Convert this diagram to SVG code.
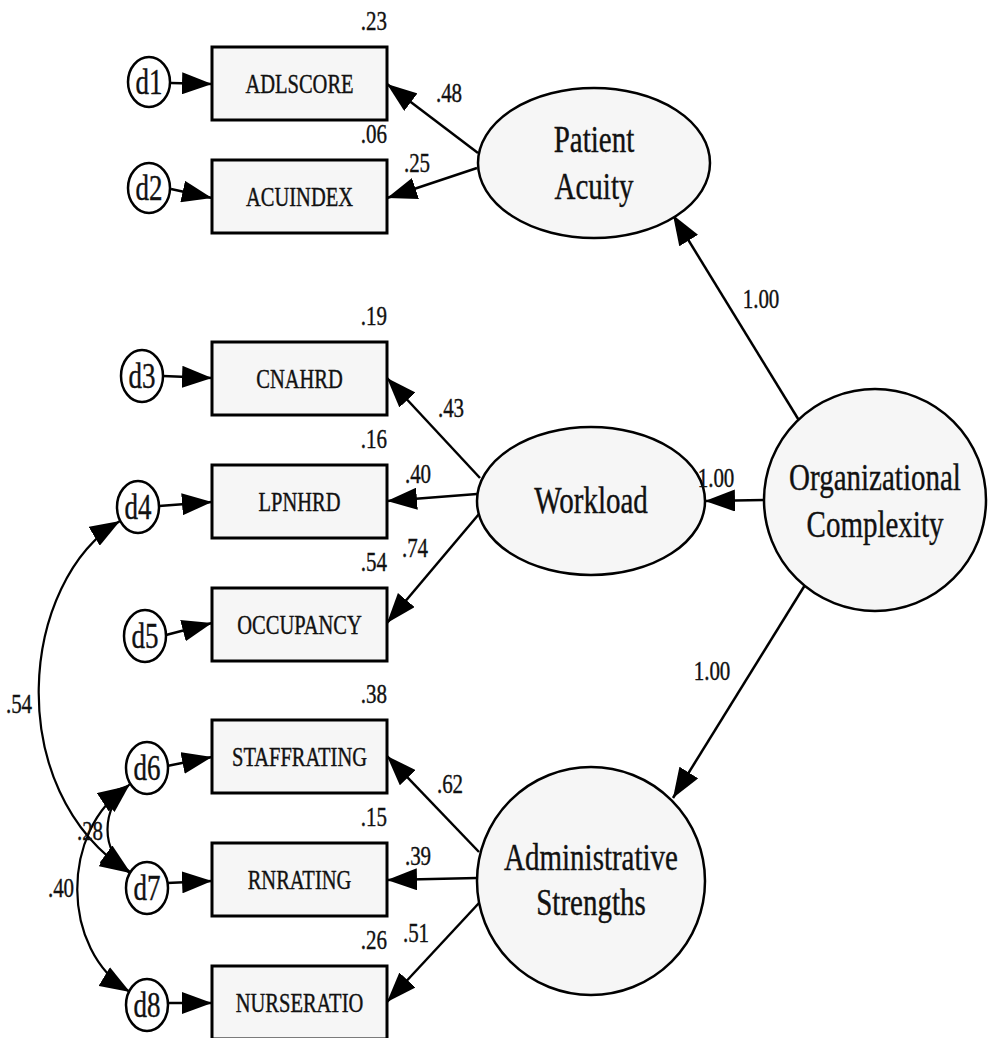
<svg xmlns="http://www.w3.org/2000/svg" width="994" height="1038" viewBox="0 0 994 1038">
<style>
.box{fill:#f6f6f6;stroke:#000;stroke-width:3}
.lat{fill:#f6f6f6;stroke:#000;stroke-width:2.5}
.err{fill:#fff;stroke:#000;stroke-width:2.5}
.ln{fill:none;stroke:#000;stroke-width:2.5;marker-end:url(#ah)}
.cv{fill:none;stroke:#000;stroke-width:2.2;marker-end:url(#ah);marker-start:url(#ah)}
text{font-family:'Liberation Serif','Times New Roman',serif;fill:#111;stroke:#111;stroke-width:0.3;text-anchor:middle}
.bl{font-size:20.5px}
.dl{font-size:27px}
.ll{font-size:29px}
.nl{font-size:21px}
.r2{font-size:21px;text-anchor:end}
</style>
<defs>
<marker id="ah" markerUnits="userSpaceOnUse" markerWidth="30" markerHeight="22" refX="30" refY="11" orient="auto-start-reverse">
<path d="M0,0 L30,11 L0,22 z" fill="#000"/>
</marker>
</defs>
<g id="connectors">
<line class="ln" x1="171" y1="83" x2="212" y2="84"/>
<line class="ln" x1="171" y1="189" x2="212" y2="198"/>
<line class="ln" x1="163" y1="376" x2="212" y2="378"/>
<line class="ln" x1="159" y1="506" x2="212" y2="502"/>
<line class="ln" x1="166" y1="635" x2="212" y2="623"/>
<line class="ln" x1="167" y1="766" x2="212" y2="757"/>
<line class="ln" x1="167" y1="883" x2="212" y2="881"/>
<line class="ln" x1="167" y1="1003" x2="212" y2="1003"/>
<line class="ln" x1="478" y1="153" x2="387" y2="84"/>
<line class="ln" x1="477" y1="168" x2="387" y2="198"/>
<line class="ln" x1="480" y1="478" x2="387" y2="378"/>
<line class="ln" x1="477" y1="494" x2="387" y2="501"/>
<line class="ln" x1="479" y1="514" x2="387" y2="623"/>
<line class="ln" x1="479" y1="852" x2="387" y2="756"/>
<line class="ln" x1="477" y1="878" x2="387" y2="880"/>
<line class="ln" x1="479" y1="903" x2="387" y2="1002"/>
<line class="ln" x1="800" y1="422" x2="673" y2="215"/>
<line class="ln" x1="764" y1="500" x2="705" y2="501"/>
<line class="ln" x1="805" y1="585" x2="673" y2="798"/>
<path class="cv" d="M120,521 C20,580 0,790 130,873"/>
<path class="cv" d="M130,784 C100,810 100,850 130,872"/>
<path class="cv" d="M128,786 C60,830 60,950 130,992"/>
</g>
<g id="ADLSCORE" font-family="Liberation Serif, serif"><rect class="box" x="212" y="47" width="175" height="73"/><text class="bl" transform="translate(299.5,92.5) scale(1,1.3)">ADLSCORE</text><text class="r2" transform="translate(387,30) scale(1,1.3)">.23</text></g>
<g id="ACUINDEX"><rect class="box" x="212" y="160" width="175" height="73"/><text class="bl" transform="translate(299.5,205.5) scale(1,1.3)">ACUINDEX</text><text class="r2" transform="translate(387,143) scale(1,1.3)">.06</text></g>
<g id="CNAHRD"><rect class="box" x="212" y="342" width="175" height="73"/><text class="bl" transform="translate(299.5,387.5) scale(1,1.3)">CNAHRD</text><text class="r2" transform="translate(387,325) scale(1,1.3)">.19</text></g>
<g id="LPNHRD"><rect class="box" x="212" y="465" width="175" height="73"/><text class="bl" transform="translate(299.5,510.5) scale(1,1.3)">LPNHRD</text><text class="r2" transform="translate(387,448) scale(1,1.3)">.16</text></g>
<g id="OCCUPANCY"><rect class="box" x="212" y="588" width="175" height="73"/><text class="bl" transform="translate(299.5,633.5) scale(1,1.3)">OCCUPANCY</text><text class="r2" transform="translate(387,571) scale(1,1.3)">.54</text></g>
<g id="STAFFRATING"><rect class="box" x="212" y="720" width="175" height="73"/><text class="bl" transform="translate(299.5,765.5) scale(1,1.3)">STAFFRATING</text><text class="r2" transform="translate(387,703) scale(1,1.3)">.38</text></g>
<g id="RNRATING"><rect class="box" x="212" y="843" width="175" height="73"/><text class="bl" transform="translate(299.5,888.5) scale(1,1.3)">RNRATING</text><text class="r2" transform="translate(387,826) scale(1,1.3)">.15</text></g>
<g id="NURSERATIO"><rect class="box" x="212" y="966" width="175" height="73"/><text class="bl" transform="translate(299.5,1011.5) scale(1,1.3)">NURSERATIO</text><text class="r2" transform="translate(387,949) scale(1,1.3)">.26</text></g>
<g id="d1"><ellipse class="err" cx="149" cy="82" rx="21" ry="25"/><text class="dl" transform="translate(149,93.5) scale(1,1.3)">d1</text></g>
<g id="d2"><ellipse class="err" cx="149" cy="188" rx="21" ry="25"/><text class="dl" transform="translate(149,199.5) scale(1,1.3)">d2</text></g>
<g id="d3"><ellipse class="err" cx="142" cy="376" rx="21" ry="26"/><text class="dl" transform="translate(142,387.5) scale(1,1.3)">d3</text></g>
<g id="d4"><ellipse class="err" cx="138" cy="507" rx="21" ry="26"/><text class="dl" transform="translate(138,518.5) scale(1,1.3)">d4</text></g>
<g id="d5"><ellipse class="err" cx="145" cy="636" rx="21" ry="26"/><text class="dl" transform="translate(145,647.5) scale(1,1.3)">d5</text></g>
<g id="d6"><ellipse class="err" cx="147" cy="768" rx="21" ry="26"/><text class="dl" transform="translate(147,779.5) scale(1,1.3)">d6</text></g>
<g id="d7"><ellipse class="err" cx="147" cy="888" rx="21" ry="26"/><text class="dl" transform="translate(147,899.5) scale(1,1.3)">d7</text></g>
<g id="d8"><ellipse class="err" cx="147" cy="1005" rx="21" ry="26"/><text class="dl" transform="translate(147,1016.5) scale(1,1.3)">d8</text></g>
<g id="PatientAcuity"><ellipse class="lat" cx="594" cy="163" rx="116" ry="75"/><text class="ll" transform="translate(594,152) scale(1,1.3)">Patient</text><text class="ll" transform="translate(594,199) scale(1,1.3)">Acuity</text></g>
<g id="Workload"><ellipse class="lat" cx="591" cy="501" rx="114" ry="74"/><text class="ll" transform="translate(591,513) scale(1,1.3)">Workload</text></g>
<g id="OrganizationalComplexity"><circle class="lat" cx="875" cy="500" r="111"/><text class="ll" transform="translate(875,490) scale(1,1.3)">Organizational</text><text class="ll" transform="translate(875,537) scale(1,1.3)">Complexity</text></g>
<g id="AdministrativeStrengths"><circle class="lat" cx="591" cy="881" r="114"/><text class="ll" transform="translate(591,870) scale(1,1.3)">Administrative</text><text class="ll" transform="translate(591,915) scale(1,1.3)">Strengths</text></g>
<g id="labels">
<text class="nl" transform="translate(449,102) scale(1,1.3)">.48</text>
<text class="nl" transform="translate(417,172) scale(1,1.3)">.25</text>
<text class="nl" transform="translate(451,417) scale(1,1.3)">.43</text>
<text class="nl" transform="translate(418,483) scale(1,1.3)">.40</text>
<text class="nl" transform="translate(415,557) scale(1,1.3)">.74</text>
<text class="nl" transform="translate(450,793) scale(1,1.3)">.62</text>
<text class="nl" transform="translate(418,865) scale(1,1.3)">.39</text>
<text class="nl" transform="translate(416,942) scale(1,1.3)">.51</text>
<text class="nl" transform="translate(761,308) scale(1,1.3)">1.00</text>
<text class="nl" transform="translate(716,487) scale(1,1.3)">1.00</text>
<text class="nl" transform="translate(712,680) scale(1,1.3)">1.00</text>
<text class="nl" transform="translate(19,713) scale(1,1.3)">.54</text>
<text class="nl" transform="translate(90,840) scale(1,1.3)">.28</text>
<text class="nl" transform="translate(61,897) scale(1,1.3)">.40</text>
</g>
</svg>
